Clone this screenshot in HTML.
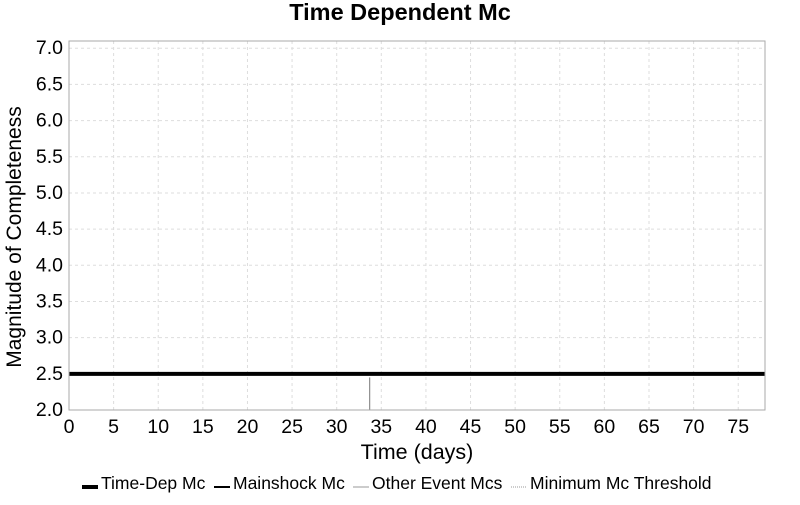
<!DOCTYPE html>
<html><head><meta charset="utf-8"><style>
body{margin:0;background:#fff;font-family:"Liberation Sans",sans-serif}
svg text{font-family:"Liberation Sans",sans-serif}
</style></head><body>
<svg id="chart" width="800" height="500" xmlns="http://www.w3.org/2000/svg">
<text x="400" y="20" text-anchor="middle" font-size="23.5" font-weight="bold">Time Dependent Mc</text>
<g id="grid"></g>
<g id="series"></g>
<g id="axes"></g>
<text x="417" y="459" text-anchor="middle" font-size="21.5">Time (days)</text>
<text transform="translate(21,237) rotate(-90)" text-anchor="middle" font-size="21">Magnitude of Completeness</text>
<g font-size="17.5">
<g><line x1="82" y1="487" x2="98" y2="487" stroke="#000" stroke-width="4"/><text x="101" y="489">Time-Dep Mc</text></g>
<g><line x1="214" y1="487" x2="230" y2="487" stroke="#000" stroke-width="2"/><text x="233" y="489">Mainshock Mc</text></g>
<g><line x1="353" y1="487" x2="369" y2="487" stroke="#999" stroke-width="1"/><text x="372" y="489">Other Event Mcs</text></g>
<g><line x1="511" y1="487" x2="527" y2="487" stroke="#999" stroke-width="1" stroke-dasharray="1,1"/><text x="530" y="489">Minimum Mc Threshold</text></g>
</g>
</svg>
<script>
const xTicks=[0,5,10,15,20,25,30,35,40,45,50,55,60,65,70,75];
const yTicks=[2.0,2.5,3.0,3.5,4.0,4.5,5.0,5.5,6.0,6.5,7.0];
const timeDepT=[0,78];
const timeDepMc=[2.5,2.5];
const mainshockMc=[2.5];
const otherEventT=[33.7];
const otherEventMc=[2.45];
const X0=69,X1=765,Y0=410,Y1=41,xMin=0,xMax=78,yMin=2.0,yMax=7.1;
const sx=v=>X0+(v-xMin)/(xMax-xMin)*(X1-X0);
const sy=v=>Y0-(v-yMin)/(yMax-yMin)*(Y0-Y1);
const NS='http://www.w3.org/2000/svg';
function mk(tag,attrs,parent){const e=document.createElementNS(NS,tag);for(const k in attrs)e.setAttribute(k,attrs[k]);parent.appendChild(e);return e;}
const grid=document.getElementById('grid'),ser=document.getElementById('series'),axes=document.getElementById('axes');
xTicks.forEach(t=>{
  const l=mk('line',{x1:sx(t),x2:sx(t),y1:Y1,y2:Y0,stroke:'#ddd','stroke-dasharray':'3,3'},grid);
  
  
  const tx=mk('text',{x:sx(t),y:Y0+23,'text-anchor':'middle','font-size':19.5},axes);
  tx.textContent=t;
  
  
});
yTicks.forEach(t=>{
  const l=mk('line',{x1:X0,x2:X1,y1:sy(t),y2:sy(t),stroke:'#ddd','stroke-dasharray':'3,3'},grid);
  
  
  const tx=mk('text',{x:X0-6,y:sy(t)+6,'text-anchor':'end','font-size':19.5},axes);
  tx.textContent=t.toFixed(1);
  
  
});
const fr=mk('rect',{x:X0,y:Y1,width:X1-X0,height:Y0-Y1,fill:'none',stroke:'#aaa'},axes);


otherEventT.forEach((t,i)=>{
  const l=mk('line',{x1:sx(t),x2:sx(t),y1:sy(otherEventMc[i]),y2:Y0,stroke:'#777','stroke-width':1},ser);
  
  
});
mainshockMc.forEach(v=>{
  const l=mk('line',{x1:sx(xMin),x2:sx(xMax),y1:sy(v),y2:sy(v),stroke:'#000','stroke-width':2},ser);
  
  
});
const pts=timeDepT.map((t,i)=>sx(t)+','+sy(timeDepMc[i])).join(' ');
const pl=mk('polyline',{points:pts,fill:'none',stroke:'#000','stroke-width':4},ser);


</script>
</body></html>
